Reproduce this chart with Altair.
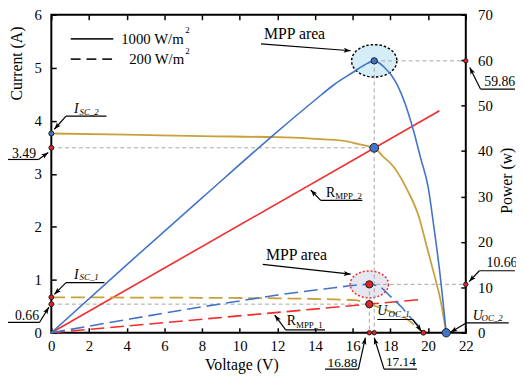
import math
import altair as alt
import pandas as pd

FONT = "Liberation Serif"
BLUE = "#4273C8"
GOLD = "#C9A03C"
RED = "#F22B2B"
GRAY = "#A6A6A6"
DOTRED = "#E42222"
EDGE = "#1E1E1E"

W, H = 421, 323
XD, ID, PD = [0, 22], [0, 6], [0, 70]
PXV, PXA = W / 22.0, H / 6.0

# ---------------- data ----------------
# 1000 W/m2 : I-V curve (A) and P-V curve (W)
iv1000_v = [0, 4, 8, 12, 14, 15, 15.7, 16.3, 16.8, 17.14, 17.6, 18.2, 18.9, 19.5, 19.95, 20.3, 20.65, 20.96]
iv1000_i = [3.76, 3.74, 3.71, 3.69, 3.66, 3.64, 3.61, 3.56, 3.52, 3.49, 3.33, 3.12, 2.69, 2.2, 1.6, 1.13, 0.63, 0]
pv1000_v = [0, 4, 8, 12, 14, 15, 16, 16.6, 17.14, 17.66, 18.27, 18.8, 19.23, 19.6, 20.0, 20.3, 20.6, 20.96]
pv1000_p = [0, 14.96, 29.68, 44.28, 51.24, 54.6, 57.3, 58.9, 59.86, 58.5, 55.3, 50.2, 44.4, 38.5, 32.1, 23.5, 14.0, 0]
# 200 W/m2
iv200_v = [0, 4, 8, 12, 15, 16.1, 16.5, 16.88, 17.4, 18.0, 18.5, 18.8, 19.2, 19.4, 19.75]
iv200_i = [0.67, 0.665, 0.66, 0.65, 0.63, 0.615, 0.59, 0.54, 0.48, 0.40, 0.33, 0.28, 0.17, 0.105, 0]
pv200_v = [0, 4, 8, 10.6, 12, 15, 16.1, 16.5, 16.88, 17.4, 18.0, 18.6, 19.1, 19.45, 19.75]
pv200_p = [0, 2.9, 5.7, 7.4, 8.3, 9.9, 10.45, 10.6, 10.66, 10.2, 8.0, 5.6, 3.2, 1.7, 0]
# load lines R_MPP
r2_v = [0, 20.6]
r2_i = [0, 4.19]
r1_v = [0, 19.6]
r1_i = [0, 0.627]

# key points
V_MPP2, I_MPP2, P_MPP2, ISC2, UOC2 = 17.14, 3.49, 59.86, 3.76, 20.96
V_MPP1, I_MPP1, P_MPP1, ISC1, UOC1 = 16.88, 0.54, 10.66, 0.67, 19.75

x_ticks = list(range(0, 23, 2))
i_ticks = list(range(0, 7))
p_ticks = list(range(0, 71, 10))

# annotation geometry (in voltage / current units)
SEGMENTS = [
    (0.78, 4.087, 2.93, 4.087, 0), (0.78, 4.087, 0.16, 3.84, 1),
    (-2.35, 3.27, -0.68, 3.27, 0), (-0.68, 3.27, -0.16, 3.40, 1),
    (0.78, 0.947, 2.82, 0.947, 0), (0.78, 0.947, 0.16, 0.724, 1),
    (-2.30, 0.195, -0.63, 0.195, 0), (-0.63, 0.195, -0.13, 0.483, 1),
    (11.13, 5.452, 15.89, 5.322, 1),
    (11.22, 1.291, 15.89, 1.105, 1),
    (14.30, 2.499, 16.51, 2.499, 0), (14.30, 2.499, 13.77, 2.694, 1),
    (12.44, 0.056, 14.53, 0.056, 0), (12.44, 0.056, 11.86, 0.334, 1),
    (17.30, 0.251, 19.18, 0.251, 0), (19.18, 0.251, 19.65, 0.028, 1),
    (22.02, 0.186, 24.28, 0.186, 0), (22.02, 0.186, 21.19, 0.009, 1),
    (22.78, 4.598, 24.61, 4.598, 0), (22.78, 4.598, 22.21, 5.006, 1),
    (22.72, 1.170, 24.61, 1.170, 0), (22.72, 1.170, 22.18, 0.966, 1),
    (14.53, -0.687, 16.30, -0.687, 0), (16.30, -0.687, 16.67, -0.093, 1),
    (17.66, -0.687, 19.41, -0.687, 0), (17.66, -0.687, 17.14, -0.093, 1),
]
TEXT_UP = [
    ("3.49", -2.09, 3.30, 14), ("0.66", -1.93, 0.2415, 14),
    ("MPP area", 11.29, 5.536, 16), ("MPP area", 11.39, 1.375, 16),
    ("R", 14.58, 2.564, 14), ("MPP_2", 15.07, 2.526, 9),
    ("R", 12.49, 0.149, 14), ("MPP_1", 12.99, 0.093, 9),
    ("59.86", 22.98, 4.663, 14), ("10.66", 23.10, 1.245, 14),
    ("16.88", 14.66, -0.645, 13.5), ("17.14", 17.76, -0.632, 13.5),
    ("1000 W/m", 3.71, 5.449, 15), ("2", 7.11, 5.647, 9),
    ("200 W/m", 4.13, 5.07, 15), ("2", 7.11, 5.267, 9),
]
TEXT_IT = [
    ("I", 1.20, 4.148, 14), ("SC_2", 1.50, 4.118, 9),
    ("I", 1.20, 1.022, 14), ("SC_1", 1.50, 0.990, 9),
    ("U", 17.30, 0.34, 14), ("OC_1", 17.90, 0.297, 9),
    ("U", 22.37, 0.247, 14), ("OC_2", 22.84, 0.214, 9),
]
LEGEND_SOLID = (1.03, 5.545, 3.29, 5.545)
LEGEND_DASH = (1.03, 5.164, 3.29, 5.164)


def xs(axis=None, field="V"):
    return alt.X(f"{field}:Q", scale=alt.Scale(domain=XD, nice=False, zero=False), axis=axis)


def yi(axis=None, field="I"):
    return alt.Y(f"{field}:Q", scale=alt.Scale(domain=ID, nice=False, zero=False), axis=axis)


def yp(axis=None, field="P"):
    return alt.Y(f"{field}:Q", scale=alt.Scale(domain=PD, nice=False, zero=False), axis=axis)


common = dict(labelFlush=False, labelOverlap=False, domain=False, grid=False)
AX_BOTTOM = alt.Axis(orient="bottom", values=x_ticks, ticks=False, labelPadding=6,
                     title="Voltage (V)", titleX=193, titleY=37, titleAlign="center",
                     titleBaseline="alphabetic", **common)
AX_BOTTOM_T = alt.Axis(orient="bottom", values=x_ticks, labels=False, ticks=True, tickSize=5,
                       offset=-5, title=None, **common)
AX_TOP_T = alt.Axis(orient="top", values=x_ticks, labels=False, ticks=True, tickSize=5,
                    offset=-5, title=None, **common)
AX_LEFT = alt.Axis(orient="left", values=i_ticks, ticks=False, labelPadding=10,
                   title="Current (A)", titleAngle=270, titleX=-30, titleY=49,
                   titleAlign="center", titleBaseline="alphabetic", **common)
AX_LEFT_T = alt.Axis(orient="left", values=i_ticks, labels=False, ticks=True, tickSize=5,
                     offset=-5, title=None, **common)
AX_RIGHT = alt.Axis(orient="right", values=p_ticks, ticks=False, labelPadding=12,
                    title="Power (w)", titleAngle=270, titleX=46, titleY=168,
                    titleAlign="center", titleBaseline="alphabetic", **common)
AX_RIGHT_T = alt.Axis(orient="right", values=p_ticks, labels=False, ticks=True, tickSize=5,
                      offset=-5, title=None, **common)


def ellipse_path(k, n=64):
    pts = [(math.cos(2 * math.pi * j / n), k * math.sin(2 * math.pi * j / n)) for j in range(n)]
    return "M" + "L".join(f"{a:.4f},{b:.4f}" for a, b in pts) + "Z"


layers = []

# MPP areas
layers.append(alt.Chart(pd.DataFrame({"V": [V_MPP2], "P": [P_MPP2]})).mark_point(
    shape=ellipse_path(0.717), size=2116, filled=True, fill="#D5EDF6", stroke="black",
    strokeWidth=1.5, strokeDash=[2.5, 2], opacity=1).encode(x=xs(), y=yp()))
layers.append(alt.Chart(pd.DataFrame({"V": [V_MPP1], "P": [P_MPP1]})).mark_point(
    shape=ellipse_path(0.70), size=1521, filled=True, fill="#E6E6F0", stroke=RED,
    strokeWidth=1.5, strokeDash=[2, 2], opacity=1).encode(x=xs(), y=yp()))

# grey guides
gi = pd.DataFrame({"V": [0, 0], "I": [I_MPP2, I_MPP1], "V2": [V_MPP2, V_MPP1], "I2": [I_MPP2, I_MPP1]})
layers.append(alt.Chart(gi).mark_rule(color=GRAY, strokeWidth=1, strokeDash=[4, 3]).encode(
    x=xs(), y=yi(), x2=alt.X2("V2"), y2=alt.Y2("I2")))
gp = pd.DataFrame({"V": [V_MPP2, V_MPP2, V_MPP1, V_MPP1], "P": [P_MPP2, P_MPP2, P_MPP1, P_MPP1],
                   "V2": [22, V_MPP2, 22, V_MPP1], "P2": [P_MPP2, 0, P_MPP1, 0]})
layers.append(alt.Chart(gp).mark_rule(color=GRAY, strokeWidth=1, strokeDash=[4, 3]).encode(
    x=xs(), y=yp(), x2=alt.X2("V2"), y2=alt.Y2("P2")))

# load lines
layers.append(alt.Chart(pd.DataFrame({"V": r2_v, "I": r2_i})).mark_line(
    color=RED, strokeWidth=1.6).encode(x=xs(AX_TOP_T), y=yi()))
layers.append(alt.Chart(pd.DataFrame({"V": r1_v, "I": r1_i})).mark_line(
    color=RED, strokeWidth=1.6, strokeDash=[14, 6]).encode(x=xs(), y=yi()))

# I-V curves
layers.append(alt.Chart(pd.DataFrame({"V": iv1000_v, "I": iv1000_i})).mark_line(
    color=GOLD, strokeWidth=1.8, interpolate="monotone").encode(x=xs(AX_BOTTOM), y=yi(AX_LEFT)))
layers.append(alt.Chart(pd.DataFrame({"V": iv200_v, "I": iv200_i})).mark_line(
    color=GOLD, strokeWidth=1.8, strokeDash=[14, 6], interpolate="monotone").encode(
    x=xs(AX_BOTTOM_T), y=yi(AX_LEFT_T)))

# P-V curves
layers.append(alt.Chart(pd.DataFrame({"V": pv1000_v, "P": pv1000_p})).mark_line(
    color=BLUE, strokeWidth=1.6, interpolate="monotone").encode(x=xs(), y=yp(AX_RIGHT)))
layers.append(alt.Chart(pd.DataFrame({"V": pv200_v, "P": pv200_p})).mark_line(
    color=BLUE, strokeWidth=1.6, strokeDash=[14, 6], interpolate="monotone").encode(
    x=xs(), y=yp(AX_RIGHT_T)))

# markers
di = pd.DataFrame({
    "V": [0, 0, V_MPP2, 0, 0, V_MPP1, V_MPP1, V_MPP2, UOC1, UOC2],
    "I": [ISC2, I_MPP2, I_MPP2, ISC1, I_MPP1, I_MPP1, 0, 0, 0, 0],
    "fill": [BLUE, DOTRED, BLUE, DOTRED, DOTRED, DOTRED, DOTRED, DOTRED, DOTRED, BLUE],
    "size": [26, 24, 80, 24, 24, 55, 20, 20, 24, 72],
})
layers.append(alt.Chart(di).mark_point(shape="circle", filled=True, stroke=EDGE, strokeWidth=1,
                                        opacity=1).encode(
    x=xs(), y=yi(), fill=alt.Fill("fill:N", scale=None), size=alt.Size("size:Q", scale=None)))
dp = pd.DataFrame({
    "V": [V_MPP2, 22, V_MPP1, 22],
    "P": [P_MPP2, P_MPP2, P_MPP1, P_MPP1],
    "fill": [BLUE, DOTRED, DOTRED, DOTRED],
    "size": [42, 20, 55, 20],
})
layers.append(alt.Chart(dp).mark_point(shape="circle", filled=True, stroke=EDGE, strokeWidth=1,
                                        opacity=1).encode(
    x=xs(), y=yp(), fill=alt.Fill("fill:N", scale=None), size=alt.Size("size:Q", scale=None)))

# annotation leaders
seg = pd.DataFrame([{"V": a, "I": b, "V2": c, "I2": d} for a, b, c, d, _ in SEGMENTS])
layers.append(alt.Chart(seg).mark_rule(color="black", strokeWidth=1.2).encode(
    x=xs(), y=yi(), x2=alt.X2("V2"), y2=alt.Y2("I2")))
heads = []
for a, b, c, d, h in SEGMENTS:
    if h:
        ang = math.degrees(math.atan2(-(d - b) * PXA, (c - a) * PXV)) % 360
        heads.append({"V": c, "I": d, "ang": ang})
layers.append(alt.Chart(pd.DataFrame(heads)).mark_point(
    shape="M0,0L-1,-0.36L-0.78,0L-1,0.36Z", size=196, filled=True, color="black",
    opacity=1).encode(x=xs(), y=yi(), angle=alt.Angle("ang:Q", scale=None)))

# legend lines
ls = pd.DataFrame([dict(zip(["V", "I", "V2", "I2"], LEGEND_SOLID))])
ld = pd.DataFrame([dict(zip(["V", "I", "V2", "I2"], LEGEND_DASH))])
layers.append(alt.Chart(ls).mark_rule(color="#222222", strokeWidth=1.6).encode(
    x=xs(), y=yi(), x2=alt.X2("V2"), y2=alt.Y2("I2")))
layers.append(alt.Chart(ld).mark_rule(color="#222222", strokeWidth=1.6, strokeDash=[10, 6]).encode(
    x=xs(), y=yi(), x2=alt.X2("V2"), y2=alt.Y2("I2")))

# texts
tu = pd.DataFrame(TEXT_UP, columns=["t", "V", "I", "fs"])
layers.append(alt.Chart(tu).mark_text(align="left", baseline="alphabetic", font=FONT,
                                       color="black").encode(
    x=xs(), y=yi(), text="t:N", size=alt.Size("fs:Q", scale=None)))
ti = pd.DataFrame(TEXT_IT, columns=["t", "V", "I", "fs"])
layers.append(alt.Chart(ti).mark_text(align="left", baseline="alphabetic", font=FONT,
                                       fontStyle="italic", color="black").encode(
    x=xs(), y=yi(), text="t:N", size=alt.Size("fs:Q", scale=None)))

chart = alt.layer(*layers).resolve_scale(x="independent", y="independent").properties(
    width=W, height=H,
    autosize=alt.AutoSizeParams(type="none"),
    padding={"left": 44, "top": 4, "right": 51, "bottom": 40},
).configure_view(stroke="black", strokeWidth=2).configure_axis(
    labelFont=FONT, labelFontSize=15, labelColor="black",
    titleFont=FONT, titleFontSize=16, titleFontWeight="normal", titleColor="black",
    tickColor="black", tickWidth=1.5,
)

chart.save("out.html", embed_options={"renderer": "svg", "actions": False})
